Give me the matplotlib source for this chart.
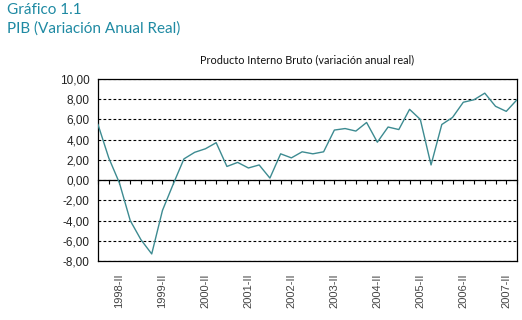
import numpy as np
import matplotlib.pyplot as plt
from matplotlib.ticker import FixedLocator

# trimestres desde 1997-IV hasta 2007-III
years = [1997] + [y for y in range(1998, 2007) for _ in range(4)] + [2007] * 3
quarters = ["IV"] + ["I", "II", "III", "IV"] * 9 + ["I", "II", "III"]
periods = [f"{y}-{q}" for y, q in zip(years, quarters)]

pib = [5.5, 2.2, -0.3, -4.0, -5.9, -7.3, -3.0, -0.4, 2.1, 2.75,
       3.1, 3.7, 1.35, 1.75, 1.2, 1.5, 0.2, 2.6, 2.2, 2.8,
       2.6, 2.8, 4.95, 5.1, 4.85, 5.7, 3.75, 5.25, 5.0, 7.0,
       6.0, 1.5, 5.5, 6.2, 7.7, 7.95, 8.6, 7.3, 6.8, 7.95]

yticks = [10, 8, 6, 4, 2, 0, -2, -4, -6, -8]

teal = "#1f8aa3"
x = np.arange(len(periods))

fig = plt.figure(figsize=(5.22, 3.2), dpi=100)
ax = fig.add_axes([98 / 522, 59 / 320, 419 / 522, 182 / 320])

ax.plot(x, pib, color="#3d8b91", linewidth=1.0, zorder=3)

ax.set_xlim(0, len(periods) - 1)
ax.set_ylim(-8, 10)
ax.set_yticks(yticks)
ax.set_yticklabels([f"{v:.2f}".replace(".", ",") for v in yticks],
                   fontsize=8.5, family="Liberation Sans", color="#222222")
ax.tick_params(axis="y", length=0, pad=6)
ax.grid(axis="y", color="black", linestyle=(0, (2.5, 2)), linewidth=0.8)

# etiquetas cada cuatro trimestres, abajo
lab_idx = [i for i, p in enumerate(periods) if p.endswith("-II")]
ax.set_xticks(lab_idx)
ax.set_xticklabels([periods[i] for i in lab_idx], rotation=90,
                   fontsize=8, family="Liberation Sans", color="#444444")
ax.tick_params(axis="x", length=0, pad=9)

for s in ax.spines.values():
    s.set_color("black")
    s.set_linewidth(0.9)

# eje en cero con marcas en cada trimestre
sec = ax.secondary_xaxis(0, transform=ax.transData)
sec.xaxis.set_major_locator(FixedLocator(x))
sec.set_xticklabels([])
sec.tick_params(axis="x", direction="out", length=3, width=0.8, color="black")
sec.spines["bottom"].set_color("black")
sec.spines["bottom"].set_linewidth(0.9)

ax.set_title("Producto Interno Bruto (variación anual real)", fontsize=7.8,
             family="Lato", color="#111111", pad=11)

fig.text(7 / 522, 1 - 3 / 320, "Gráfico 1.1", fontsize=11, family="Lato",
         color=teal, va="top", ha="left")
fig.text(7 / 522, 1 - 21 / 320, "PIB (Variación Anual Real)", fontsize=11,
         family="Lato", color=teal, va="top", ha="left")

fig.savefig("out.png", dpi=100)
